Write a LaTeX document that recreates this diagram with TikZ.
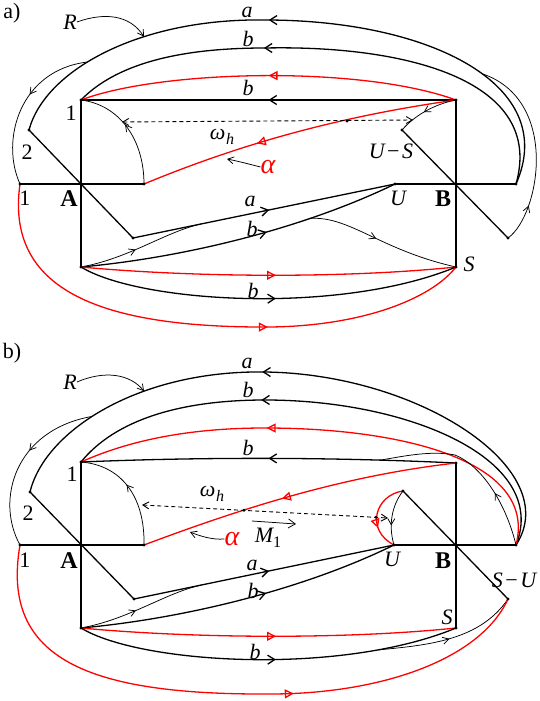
\documentclass[tikz,border=0pt]{standalone}
\usepackage{fontspec}
\setmainfont{Liberation Serif}
\usetikzlibrary{arrows.meta,decorations.markings}
\newcommand\omh{ω\kern0.5pt\raisebox{-4.5pt}{\fontsize{16}{16}\selectfont h}}
\newcommand\Mone{M\raisebox{-4.5pt}{\fontsize{16}{16}\selectfont\upshape 1}}
\newcommand\mns{\kern2.5pt{\upshape −}\kern2.5pt}
\tikzset{
  barb/.tip={Straight Barb[length=7pt,width=9pt]},
  sbarb/.tip={Straight Barb[length=6pt,width=7pt]},
  tri/.tip={Triangle[open,length=9pt,width=9pt]},
  thk/.style={line width=1.3pt},
  thn/.style={line width=0.75pt},
  rd/.style={red,line width=1.3pt},
  amid/.style={postaction={decorate},decoration={markings,mark=at position #1 with {\arrow{barb}}}},
  smid/.style={postaction={decorate},decoration={markings,mark=at position #1 with {\arrow{sbarb}}}},
  tmid/.style={postaction={decorate},decoration={markings,mark=at position #1 with {\arrow{tri}}}},
  dotn/.style={circle,fill=black,inner sep=0pt,minimum size=3.2pt},
  lbl/.style={inner sep=0pt,font=\fontsize{22}{22}\selectfont\itshape},
  num/.style={inner sep=0pt,font=\fontsize{22}{22}\selectfont},
  bld/.style={inner sep=0pt,font=\fontsize{24}{24}\selectfont\bfseries},
  alf/.style={inner sep=0pt,red,font=\fontsize{28}{28}\selectfont\itshape},
  dsh/.style={line width=0.9pt,dash pattern=on 4pt off 3pt}
}
\begin{document}
\begin{tikzpicture}[x=1pt,y=-1pt]
\useasboundingbox (0,0) rectangle (539,701);
% ================= panel a =================
\coordinate (aA) at (81,184);
\coordinate (aP1) at (81,100);
\coordinate (aP2) at (29,130);
\coordinate (aL1) at (20,184);
\coordinate (aQ) at (144,184);
\coordinate (aD) at (133,238);
\coordinate (aBL) at (81,267);
\coordinate (aTR) at (456,100);
\coordinate (aB) at (456,184);
\coordinate (aUS) at (402,130);
\coordinate (aU) at (395,184);
\coordinate (aR1) at (516,184);
\coordinate (aSU) at (508,238);
\coordinate (aS) at (456,267);
\coordinate (aX) at (347,121);
% straight lines
\draw[thk] (aL1) -- (aQ);
\draw[thk] (aP1) -- (aBL);
\draw[thk] (aP2) -- (aD);
\draw[thk] (aU) -- (aR1);
\draw[thk] (aTR) -- (aS);
\draw[thk] (aUS) -- (aSU);
% upper arcs
\draw[thk,amid=0.555] (aR1) .. controls (560,85) and (430,20) .. (265,20) coordinate[pos=0.45] (aaR)
   .. controls (140,18) and (45,70) .. (aP2) coordinate[pos=0.58] (aaL) coordinate[pos=0.36] (aaT);
\draw[thk,amid=0.63] (aR1) .. controls (545,82) and (410,45) .. (265,48) .. controls (190,48) and (120,60) .. (aP1);
\draw[rd,tmid=0.5] (aTR) .. controls (360,65) and (160,70) .. (aP1);
\draw[thk,amid=0.5] (aTR) -- (aP1);
\draw[rd,tmid=0.63] (aTR) .. controls (350,115) and (250,140) .. (aQ);
\draw[dsh,{sbarb}-{sbarb}] (122,122) -- (413,120);
\draw[thn,smid=0.55] (aTR) .. controls (435,104) and (415,115) .. (aUS);
\draw[thn,smid=0.55] (aQ) .. controls (144,140) and (120,105) .. (aP1);
\draw[thn,smid=0.42] (aaL) .. controls (20,70) and (0,140) .. (aL1);
\draw[thn,smid=0.2] (aSU) .. controls (540,215) and (560,100) .. (aaR);
% lower curves
\draw[thk,amid=0.52] (aD) -- (aU) coordinate[pos=0.26] (aaP);
\draw[thk,amid=0.58] (aBL) .. controls (180,258) and (300,230) .. (aU) coordinate[pos=0.72] (abP);
\draw[thn,smid=0.45] (aBL) .. controls (130,258) and (165,232) .. (aaP);
\draw[thn,smid=0.45] (abP) .. controls (350,216) and (380,250) .. (aS);
\draw[rd,tmid=0.52] (aBL) .. controls (200,278) and (350,278) .. (aS);
\draw[thk,amid=0.52] (aBL) .. controls (140,303) and (340,315) .. (aS);
\draw[rd,tmid=0.62] (aL1) .. controls (5,290) and (100,328) .. (270,327) .. controls (360,326) and (430,300) .. (aS);
% labels
\node[num] at (12,13) {a)};
\node[lbl] (aRl) at (70,22) {R};
\draw[thn,-{sbarb}] (aRl.east) .. controls (105,12) and (130,15) .. (aaT);
\node[alf] (aal) at (268,167) {α};
\draw[thn,-{sbarb}] (aal.west) .. controls (245,163) and (237,161) .. (227,159);
\node[lbl] at (247,12) {a};
\node[lbl] at (248,39) {b};
\node[lbl] at (248,88) {b};
\node[lbl] at (222,137) {\omh};
\node[num] at (71,113) {1};
\node[num] at (27,152) {2};
\node[num] at (25,198) {1};
\node[bld] at (69,199) {A};
\node[lbl] at (391,151) {U\mns S};
\node[lbl] at (398,198) {U};
\node[bld] at (443,199) {B};
\node[lbl] at (469,264) {S};
\node[lbl] at (250,201) {a};
\node[lbl] at (252,229) {b};
\node[lbl] at (253,291) {b};
% dots
\foreach \p in {aP1,aP2,aL1,aQ,aD,aBL,aTR,aUS,aU,aR1,aSU,aS,aX} \node[dotn] at (\p) {};
% ================= panel b =================
\coordinate (bA) at (81,545);
\coordinate (bP1) at (81,462);
\coordinate (bP2) at (30,492);
\coordinate (bL1) at (20,545);
\coordinate (bQ) at (144,545);
\coordinate (bD) at (134,599);
\coordinate (bBL) at (81,628);
\coordinate (bTR) at (456,463);
\coordinate (bB) at (456,545);
\coordinate (bUD) at (403,491);
\coordinate (bU) at (394,545);
\coordinate (bR1) at (516,545);
\coordinate (bSU) at (508,599);
\coordinate (bS) at (456,628);
\coordinate (bX1) at (244,510.3);
\coordinate (bX2) at (376,517.3);
% straight lines
\draw[thk] (bL1) -- (bQ);
\draw[thk] (bP1) -- (bBL);
\draw[thk] (bP2) -- (bD);
\draw[thk] (bU) -- (bR1);
\draw[thk] (bTR) -- (bS);
\draw[thk] (bUD) -- (bSU);
% upper arcs
\draw[thk,amid=0.56] (bR1) .. controls (565,470) and (420,374) .. (265,372)
   .. controls (140,370) and (45,430) .. (bP2) coordinate[pos=0.56] (bbL) coordinate[pos=0.36] (bbT);
\draw[thk,amid=0.63] (bR1) .. controls (550,460) and (410,400) .. (265,400) .. controls (180,400) and (115,420) .. (bP1);
\draw[rd,tmid=0.62] (bR1) .. controls (538,460) and (400,428) .. (265,428) .. controls (190,428) and (130,440) .. (bP1);
\draw[thk,amid=0.5] (bTR) .. controls (330,457) and (200,457) .. (bP1) coordinate[pos=0.2] (bbM);
\draw[thn,smid=0.3] (bR1) .. controls (505,500) and (480,465) .. (455,455) .. controls (430,450) and (400,457) .. (bbM);
\draw[rd,tmid=0.55] (bTR) .. controls (350,475) and (250,505) .. (bQ);
\draw[dsh,{sbarb}-{sbarb}] (142,505) -- (388,518);
\draw[thn,smid=0.55] (bQ) .. controls (145,495) and (120,465) .. (bP1);
\draw[thn,smid=0.42] (bbL) .. controls (15,430) and (-5,500) .. (bL1);
\draw[rd,tmid=0.68] (bUD) .. controls (375,495) and (365,530) .. (bU);
\draw[thn,smid=0.65] (bUD) .. controls (392,505) and (388,525) .. (bU);
% lower curves
\draw[thk,amid=0.52] (bD) -- (bU) coordinate[pos=0.26] (baP);
\draw[thk,amid=0.58] (bBL) .. controls (180,619) and (300,591) .. (bU);
\draw[thn,smid=0.45] (bBL) .. controls (130,619) and (165,593) .. (baP);
\draw[rd,tmid=0.52] (bBL) .. controls (200,639) and (350,639) .. (bS);
\draw[thk,amid=0.52] (bBL) .. controls (140,664) and (340,676) .. (bS) coordinate[pos=0.8] (bbP);
\draw[thn,smid=0.5] (bbP) .. controls (430,645) and (480,640) .. (bSU);
\draw[rd,tmid=0.6] (bL1) .. controls (0,660) and (90,695) .. (270,694) .. controls (380,694) and (480,660) .. (bSU);
% labels
\node[num] at (12,353) {b)};
\node[lbl] (bRl) at (70,382) {R};
\draw[thn,-{sbarb}] (bRl.east) .. controls (105,370) and (130,374) .. (bbT);
\node[alf] (bal) at (232,539) {α};
\draw[thn,-{sbarb}] (bal.west) .. controls (212,540) and (200,536) .. (190,532);
\node[lbl] at (268,538) {\Mone};
\draw[thn,-{barb}] (252,521) -- (296,524);
\node[lbl] at (247,363) {a};
\node[lbl] at (248,390) {b};
\node[lbl] at (248,448) {b};
\node[lbl] at (212,494) {\omh};
\node[num] at (72,474) {1};
\node[num] at (28,513) {2};
\node[num] at (25,560) {1};
\node[bld] at (69,561) {A};
\node[lbl] at (392,559) {U};
\node[bld] at (443,561) {B};
\node[lbl] at (514,580) {S\mns U};
\node[lbl] at (447,617) {S};
\node[lbl] at (252,565) {a};
\node[lbl] at (253,591) {b};
\node[lbl] at (255,652) {b};
% dots
\foreach \p in {bP1,bP2,bL1,bQ,bD,bBL,bTR,bUD,bU,bR1,bSU,bS,bX1,bX2} \node[dotn] at (\p) {};
\end{tikzpicture}
\end{document}
